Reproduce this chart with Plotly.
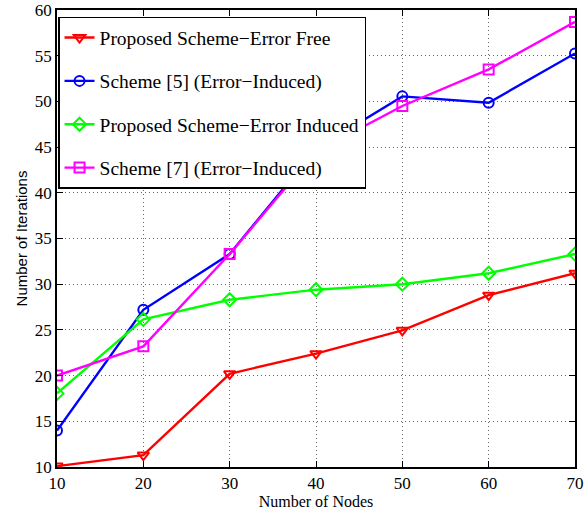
import plotly.graph_objects as go

nodes = [10, 20, 30, 40, 50, 60, 70]
proposed_free = [10.1, 11.3, 20.2, 22.4, 24.95, 28.8, 31.2]
scheme5 = [14.0, 27.2, 33.3, 44.8, 50.55, 49.85, 55.25]
proposed_induced = [18.05, 26.15, 28.3, 29.4, 30.0, 31.2, 33.3]
scheme7 = [20.0, 23.2, 33.3, 44.5, 49.5, 53.5, 58.7]

names = ["Proposed Scheme\u2212Error Free", "Scheme [5] (Error\u2212Induced)",
         "Proposed Scheme\u2212Error Induced", "Scheme [7] (Error\u2212Induced)"]
series = [proposed_free, scheme5, proposed_induced, scheme7]
colors = ["#ff0000", "#0000ff", "#00ff00", "#ff00ff"]
symbols = ["triangle-down-open", "circle-open", "diamond-open", "square-open"]

fig = go.Figure()
for i, (n, s, c, m) in enumerate(zip(names, series, colors, symbols)):
    fig.add_trace(go.Scatter(
        x=nodes, y=s, name=n, mode="lines+markers", legendgroup=str(i),
        line=dict(color=c, width=2.4),
        marker=dict(symbol=m, size=10, color=c, line=dict(width=2, color=c)),
    ))

axis_common = dict(
    showgrid=True, gridcolor="#666666", griddash="1px,3px", gridwidth=1,
    showline=True, linecolor="black", linewidth=1.5, mirror="ticks",
    ticks="inside", ticklen=6, tickcolor="black", zeroline=False,
    automargin=False,
    tickfont=dict(family="Liberation Serif", size=17, color="black"),
)
fig.update_xaxes(range=[10, 70], dtick=10, **axis_common,
                 title=dict(text="Number of Nodes", standoff=2,
                            font=dict(family="Liberation Serif", size=16, color="black")))
fig.update_yaxes(range=[10, 60], dtick=5, **axis_common,
                 title=dict(text="Number of Iterations", standoff=4,
                            font=dict(family="Liberation Sans", size=15, color="black")))

fig.update_layout(
    width=584, height=510,
    margin=dict(l=57, r=9, t=10, b=43),
    plot_bgcolor="white", paper_bgcolor="white",
    legend=dict(x=0.002, y=0.985, xanchor="left", yanchor="top",
                bgcolor="white", bordercolor="black", borderwidth=1.5,
                font=dict(family="Liberation Serif", size=19.5, color="black"),
                traceorder="grouped", tracegroupgap=15),
    showlegend=True,
)

fig.write_html("out.html")
